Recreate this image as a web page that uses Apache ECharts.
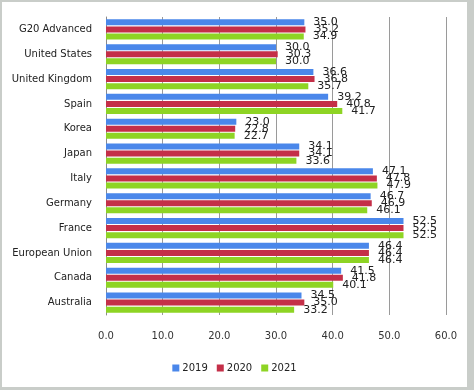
<!DOCTYPE html>
<html>
<head>
<meta charset="utf-8">
<script src="https://cdn.jsdelivr.net/npm/echarts@6/dist/echarts.min.js"></script>
<style>
html,body{margin:0;padding:0;background:#c9cdc9;}
#wrap{position:absolute;left:0;top:0;width:474px;height:390px;background:#c9cdc9;}
#chart{position:absolute;left:2px;top:2px;width:465px;height:385px;background:#fff;}
</style>
</head>
<body>
<div id="wrap"><div id="chart"></div></div>
<script>
const categories = ['G20 Advanced','United States','United Kingdom','Spain','Korea','Japan','Italy','Germany','France','European Union','Canada','Australia'];
const s2019 = [35.0,30.0,36.6,39.2,23.0,34.1,47.1,46.7,52.5,46.4,41.5,34.5];
const s2020 = [35.2,30.3,36.8,40.8,22.8,34.1,47.8,46.9,52.5,46.4,41.8,35.0];
const s2021 = [34.9,30.0,35.7,41.7,22.7,33.6,47.9,46.1,52.5,46.4,40.1,33.2];
const seriesNames = ['2019','2020','2021'];
const colors = ['#4a87ea','#c42f48','#8ed424'];
const xMin = 0, xMax = 60, xInterval = 10;

const chart = echarts.init(document.getElementById('chart'), null, {renderer:'canvas'});
const font = 'DejaVu Sans, Verdana, sans-serif';
function mk(name, data, color){
  return {
    name, type:'bar', data, barWidth:6, barGap:'18%',
    itemStyle:{color},
    label:{show:true, position:'right', distance:9, fontSize:11, fontFamily:font, color:'#222',
      formatter:p=>p.value.toFixed(1)}
  };
}
chart.setOption({
  animation:false,
  backgroundColor:'#fff',
  textStyle:{fontFamily:font},
  grid:{left:104, right:21, top:15, bottom:72, containLabel:false, outerBoundsMode:'none'},
  xAxis:{type:'value', min:xMin, max:xMax, interval:xInterval,
    axisLabel:{formatter:v=>v.toFixed(1), fontSize:10, color:'#333', margin:16, fontFamily:font},
    axisLine:{show:false}, axisTick:{show:false},
    splitLine:{show:true, lineStyle:{color:'#9a9a9a', width:1}}},
  yAxis:{type:'category', data:categories, inverse:true,
    axisLabel:{fontSize:10, color:'#222', margin:14, fontFamily:font},
    axisLine:{show:true, lineStyle:{color:'#8a8a8a'}}, axisTick:{show:false}},
  legend:{bottom:9, left:'center', itemWidth:7, itemHeight:7, itemGap:9,
    icon:'rect', textStyle:{fontSize:10, color:'#222', fontFamily:font, padding:[0,0,0,-2]},
    data:seriesNames},
  series:[mk(seriesNames[0], s2019, colors[0]), mk(seriesNames[1], s2020, colors[1]), mk(seriesNames[2], s2021, colors[2])]
});
</script>
</body>
</html>
